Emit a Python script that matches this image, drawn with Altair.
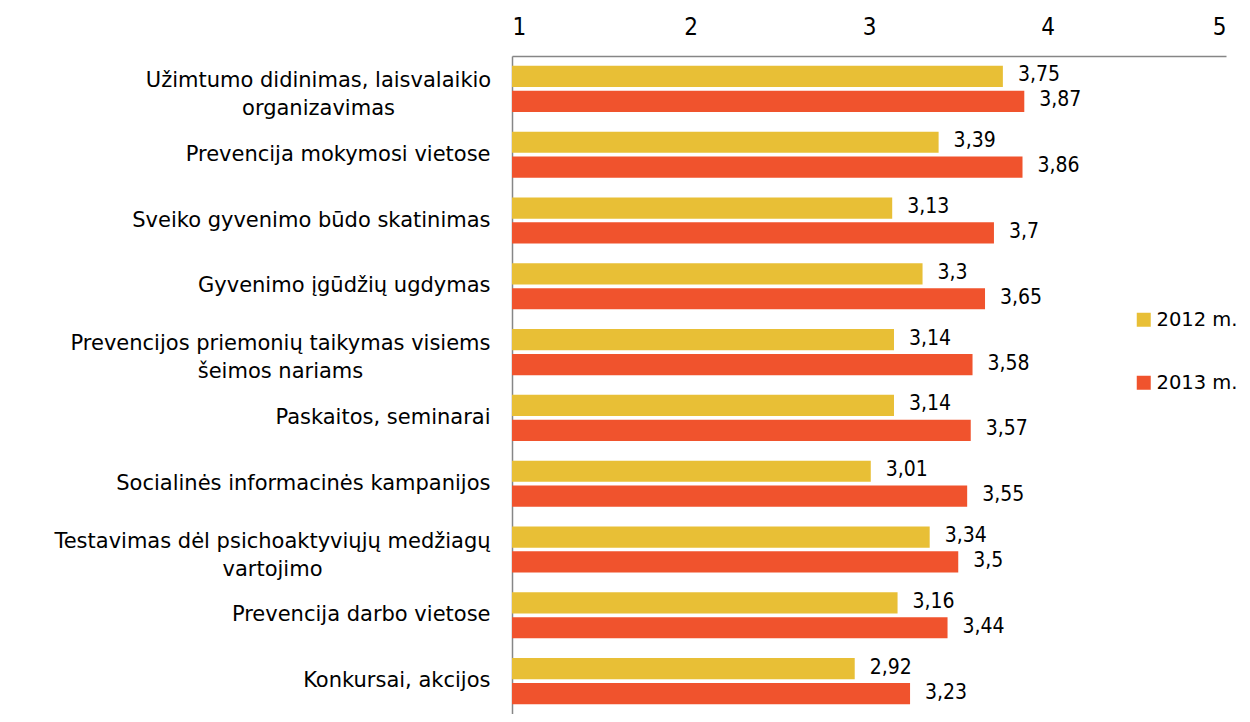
import altair as alt
import pandas as pd

categories = [
    "Užimtumo didinimas, laisvalaikio|organizavimas",
    "Prevencija mokymosi vietose",
    "Sveiko gyvenimo būdo skatinimas",
    "Gyvenimo įgūdžių ugdymas",
    "Prevencijos priemonių taikymas visiems|šeimos nariams",
    "Paskaitos, seminarai",
    "Socialinės informacinės kampanijos",
    "Testavimas dėl psichoaktyviųjų medžiagų|vartojimo",
    "Prevencija darbo vietose",
    "Konkursai, akcijos",
]
series = ["2012 m.", "2013 m."]
v2012 = [3.75, 3.39, 3.13, 3.3, 3.14, 3.14, 3.01, 3.34, 3.16, 2.92]
v2013 = [3.87, 3.86, 3.7, 3.65, 3.58, 3.57, 3.55, 3.5, 3.44, 3.23]
colors = ["#E8BF36", "#F0532D"]
tick_values = [1, 2, 3, 4, 5]

rows = []
for c, a, b in zip(categories, v2012, v2013):
    rows.append({"cat": c, "series": series[0], "value": a, "base": 1})
    rows.append({"cat": c, "series": series[1], "value": b, "base": 1})
df = pd.DataFrame(rows)

LABEL_FONT = "DejaVu Sans"
NUM_FONT = "DejaVu Sans Condensed"

multi = "indexof(datum.value, '|') >= 0"
pad_expr = (
    "indexof(datum.value, 'Užimtumo') == 0 ? 194 : "
    "indexof(datum.value, 'Prevencijos priemonių') == 0 ? 232 : "
    "indexof(datum.value, 'Testavimas') == 0 ? 240 : 22"
)

y = alt.Y("cat:N", sort=categories,
          scale=alt.Scale(paddingInner=0.3, paddingOuter=0.15),
          axis=alt.Axis(title=None, labelExpr="split(datum.label, '|')",
                        labelFont=LABEL_FONT, labelFontSize=21, labelColor="#000000",
                        labelPadding=alt.ExprRef(pad_expr),
                        labelAlign=alt.ExprRef(f"{multi} ? 'center' : 'right'"),
                        labelOffset=alt.ExprRef(f"{multi} ? -8 : 0"),
                        labelLineHeight=28, ticks=False,
                        domainColor="#868686", domainWidth=1.5, labelLimit=500))
yoff = alt.YOffset("series:N", sort=series, scale=alt.Scale(paddingInner=0.15))
xscale = alt.Scale(domain=[1, 5], zero=False, nice=False)

bars = alt.Chart(df).mark_bar().encode(
    y=y,
    yOffset=yoff,
    x=alt.X("value:Q", scale=xscale,
            axis=alt.Axis(orient="top", values=tick_values, format="d", title=None,
                          grid=False, ticks=False, labelFont=NUM_FONT, labelFontSize=24,
                          labelFontWeight=300,
                          labelColor="#000000", labelPadding=17,
                          domainColor="#868686", domainWidth=1.5)),
    x2="base:Q",
    color=alt.Color("series:N", sort=series,
                    scale=alt.Scale(domain=series, range=colors),
                    legend=alt.Legend(title=None, orient="none", legendX=622, legendY=254,
                                      symbolType="square", symbolSize=196,
                                      symbolStrokeWidth=0, labelFont=LABEL_FONT,
                                      labelFontSize=19.5, labelColor="#000000",
                                      rowPadding=42, labelOffset=3)),
)

labels = alt.Chart(df).transform_calculate(
    lbl="replace(toString(datum.value), '.', ',')"
).mark_text(align="left", baseline="middle", dx=15, dy=-1,
            font=NUM_FONT, fontSize=21, color="#000000").encode(
    y=alt.Y("cat:N", sort=categories),
    yOffset=alt.YOffset("series:N", sort=series),
    x=alt.X("value:Q", scale=xscale),
    text="lbl:N",
)

chart = alt.layer(bars, labels).properties(
    width=714, height=658,
    autosize=alt.AutoSizeParams(type="none"),
    padding={"left": 504, "top": 48, "right": 16, "bottom": 0},
).configure_view(stroke=None)

chart.save("out.html", embed_options={"renderer": "svg", "actions": False})
